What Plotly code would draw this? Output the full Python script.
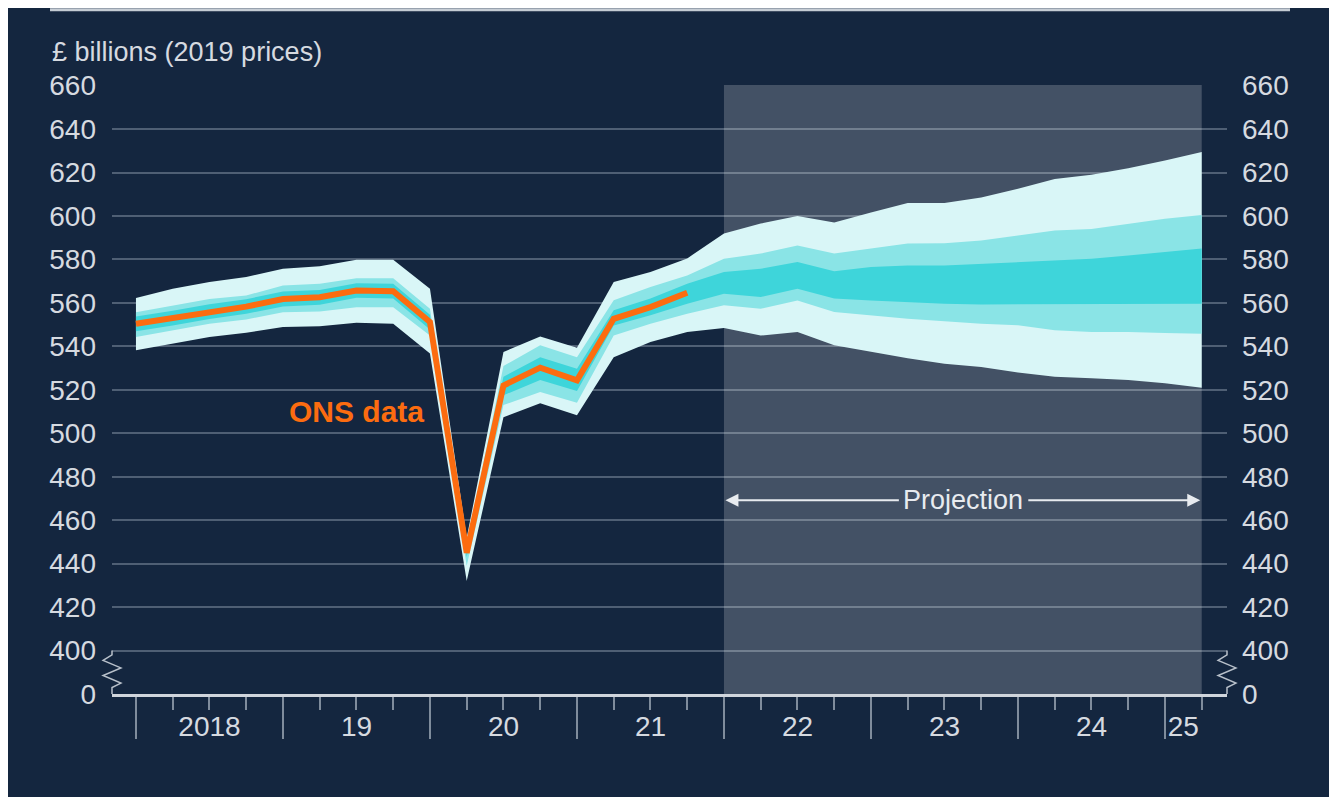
import plotly.graph_objects as go

# ---- data ----
quarters = [2018 + i * 0.25 for i in range(30)]  # 2018 Q1 .. 2025 Q2

outer_hi = [562.3, 566.5, 569.6, 571.9, 575.7, 576.9, 579.9, 579.9, 566.5, 452.0,
            537.4, 544.6, 539.4, 569.6, 574.2, 580.5, 592.0, 596.5, 600.0, 597.0,
            601.6, 606.0, 606.0, 608.5, 612.5, 617.0, 619.0, 622.0, 625.5, 629.5]
mid_hi = [555.7, 558.8, 561.8, 563.4, 568.0, 568.8, 571.4, 571.4, 557.3, 449.0,
          531.0, 540.5, 535.0, 561.2, 567.3, 572.6, 580.3, 582.7, 586.4, 582.7,
          585.0, 587.4, 587.5, 588.7, 591.0, 593.3, 594.0, 596.4, 598.7, 600.5]
inner_hi = [553.8, 556.4, 559.4, 561.7, 565.2, 566.0, 569.0, 568.8, 554.6, 447.0,
            526.0, 535.0, 529.7, 556.6, 562.0, 568.8, 574.2, 575.7, 578.8, 574.6,
            576.5, 577.2, 577.2, 578.0, 579.0, 579.5, 580.3, 581.8, 583.4, 585.0]
inner_lo = [547.0, 549.6, 552.6, 555.0, 558.4, 559.2, 562.4, 562.0, 547.8, 443.0,
            517.5, 524.5, 519.5, 549.6, 554.3, 559.6, 564.2, 562.7, 566.5, 562.0,
            561.1, 560.4, 559.6, 559.3, 559.3, 559.6, 559.3, 559.6, 559.6, 559.6]
mid_lo = [544.3, 547.4, 550.4, 552.4, 555.7, 556.0, 558.0, 558.0, 545.0, 439.0,
          513.0, 519.0, 514.0, 545.0, 550.4, 555.0, 558.9, 557.3, 561.1, 555.8,
          554.3, 552.7, 551.6, 550.4, 549.7, 547.4, 546.6, 546.6, 546.1, 545.8]
outer_lo = [538.2, 541.3, 544.3, 546.3, 548.9, 549.3, 550.9, 550.4, 536.7, 432.0,
            507.4, 513.8, 508.3, 535.0, 542.0, 546.6, 548.5, 545.0, 546.6, 540.5,
            537.4, 534.5, 532.0, 530.5, 528.0, 526.0, 525.3, 524.5, 523.0, 521.0]

ons_x = quarters[:16]  # 2018 Q1 .. 2021 Q4
ons_gdp = [550.4, 553.0, 556.0, 558.3, 561.8, 562.6, 565.7, 565.4,
           551.2, 445.0, 522.0, 530.2, 524.4, 552.7, 558.1, 564.7]

year_starts = [2018, 2019, 2020, 2021, 2022, 2023, 2024, 2025]
year_label_pos = [2018.5, 2019.5, 2020.5, 2021.5, 2022.5, 2023.5, 2024.5, 2025.125]
year_labels = ["2018", "19", "20", "21", "22", "23", "24", "25"]
minor_ticks = [q for q in quarters if q % 1 != 0]

# y axis is broken: 380 on the scale is drawn as "0"
y_tickvals = [380] + list(range(400, 661, 20))
y_ticktext = ["0"] + [str(v) for v in range(400, 661, 20)]

proj_start, proj_end = 2022.0, 2025.25

# ---- style ----
BG = "#14263f"
GRID = "#4f5f74"
TXT = "#d6dae0"
FONT = "Liberation Sans, Arial, sans-serif"
C_OUT, C_MID, C_IN = "#d9f6f7", "#8ae4e6", "#3ed5da"
ORANGE = "#fc6c10"

X_RANGE = [2017.837, 2025.422]
Y_RANGE = [380, 660.3]

fig = go.Figure()

# fan chart bands, outermost first so inner ones sit on top
for lo, hi, col in [(outer_lo, outer_hi, C_OUT), (mid_lo, mid_hi, C_MID), (inner_lo, inner_hi, C_IN)]:
    fig.add_trace(go.Scatter(x=quarters, y=lo, mode="lines", line=dict(width=0, color=col),
                             showlegend=False, hoverinfo="skip"))
    fig.add_trace(go.Scatter(x=quarters, y=hi, mode="lines", line=dict(width=0, color=col),
                             fill="tonexty", fillcolor=col, showlegend=False, hoverinfo="skip"))

fig.add_trace(go.Scatter(x=ons_x, y=ons_gdp, mode="lines", line=dict(color=ORANGE, width=6),
                         showlegend=False, name="ONS data"))

# dummy point so the overlay axes (year labels, right-hand scale) get drawn
fig.add_trace(go.Scatter(x=[2019], y=[500], xaxis="x2", yaxis="y2", mode="markers",
                         marker=dict(opacity=0), showlegend=False, hoverinfo="skip"))

# projection shading
fig.add_shape(type="rect", xref="x", yref="y", x0=proj_start, x1=proj_end, y0=380, y1=660.3,
              fillcolor="rgba(255,255,255,0.2)", line=dict(width=0), layer="between")

# axis-break zigzags
def zigzag(xp):
    d = 0.008
    return (f"M {xp},400 L {xp},398 L {xp - d},395.5 L {xp + d},392 L {xp - d},388.5 "
            f"L {xp + d},385 L {xp},383 L {xp},380")

for xp in (0, 1):
    fig.add_shape(type="path", xref="paper", yref="y", path=zigzag(xp),
                  line=dict(color="#b8c0ca", width=1.5))

# rule at top of the chart
fig.add_shape(type="line", xref="paper", yref="paper", x0=-0.0556, x1=1.0565, y0=1.1235, y1=1.1235,
              line=dict(color="#c5ccd4", width=3))

# annotations
fig.add_annotation(x=-0.0556, y=1.054, xref="paper", yref="paper", text="£ billions (2019 prices)",
                   showarrow=False, xanchor="left", yanchor="middle",
                   font=dict(family=FONT, size=27, color=TXT))
fig.add_annotation(x=2019.497, y=510, text="<b>ONS data</b>", showarrow=False,
                   font=dict(family=FONT, size=30, color=ORANGE))

y_proj = 469.2
fig.add_annotation(x=2023.626, y=y_proj, text="Projection", showarrow=False,
                   font=dict(family=FONT, size=27, color="#e8ebef"))
fig.add_annotation(x=proj_start + 0.01, y=y_proj, ax=2023.2, ay=y_proj, axref="x", ayref="y",
                   text="", showarrow=True, arrowhead=2, arrowsize=1.3, arrowwidth=2,
                   arrowcolor="#e8ebef")
fig.add_annotation(x=proj_end - 0.01, y=y_proj, ax=2024.06, ay=y_proj, axref="x", ayref="y",
                   text="", showarrow=True, arrowhead=2, arrowsize=1.3, arrowwidth=2,
                   arrowcolor="#e8ebef")

tickfont = dict(family=FONT, size=28, color=TXT)
fig.update_layout(
    width=1337, height=797,
    paper_bgcolor=BG, plot_bgcolor=BG,
    margin=dict(l=104, r=118, t=77, b=111),
    showlegend=False,
    xaxis=dict(range=X_RANGE, tickmode="array", tickvals=year_starts, showticklabels=False,
               ticks="outside", ticklen=42, tickwidth=2, tickcolor="#7f8c9c",
               minor=dict(tickmode="array", tickvals=minor_ticks, ticks="outside",
                          ticklen=13, tickwidth=2, tickcolor="#7f8c9c"),
               showgrid=False, zeroline=False, showline=True, linecolor="#d0d5dc", linewidth=3),
    xaxis2=dict(range=X_RANGE, overlaying="x", side="bottom", anchor="y2", tickmode="array",
                tickvals=year_label_pos, ticktext=year_labels, ticks="", tickfont=tickfont,
                ticklabelstandoff=13, showgrid=False, zeroline=False, showline=False),
    yaxis=dict(range=Y_RANGE, tickmode="array", tickvals=y_tickvals, ticktext=y_ticktext,
               ticks="", tickfont=tickfont, ticklabelstandoff=15,
               showgrid=True, gridcolor=GRID, gridwidth=2, zeroline=False, showline=False),
    yaxis2=dict(range=Y_RANGE, overlaying="y", side="right", anchor="x2", tickmode="array",
                tickvals=y_tickvals, ticktext=y_ticktext, ticks="", tickfont=tickfont,
                ticklabelstandoff=14, showgrid=False, zeroline=False, showline=False),
)

fig.write_html("out.html")
